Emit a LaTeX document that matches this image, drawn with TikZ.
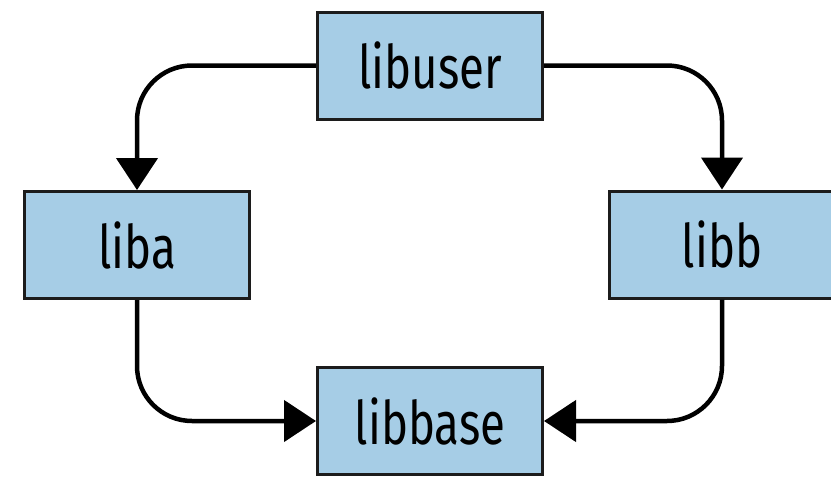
\documentclass[tikz,border=0pt]{standalone}
\usepackage{fontspec}
\setmainfont[FakeStretch=0.76]{Fira Sans}
\usetikzlibrary{arrows.meta}
\definecolor{boxblue}{HTML}{A6CDE6}
\definecolor{boxline}{HTML}{1C1C1C}
\begin{document}
\begin{tikzpicture}[x=1pt,y=1pt,
  lib/.style={draw=boxline, line width=3pt, fill=boxblue, minimum width=225pt, minimum height=107pt, inner sep=0pt, font=\fontsize{60}{60}\selectfont},
  conn/.style={line width=4.5pt, rounded corners=55pt, -{Triangle[length=32pt,width=41pt]}}]
\useasboundingbox (0,0) rectangle (831,-477);
\node[lib] (libuser) at (430,-65.5) {libuser};
\node[lib] (liba) at (137,-245) {liba};
\node[lib] (libb) at (722,-244.5) {libb};
\node[lib] (libbase) at (430,-421) {libbase};
\draw[conn] (libuser.west) -| (liba.north);
\draw[conn] (libuser.east) -| (libb.north);
\draw[conn] (liba.south) |- (libbase.west);
\draw[conn] (libb.south) |- (libbase.east);
\end{tikzpicture}
\end{document}
